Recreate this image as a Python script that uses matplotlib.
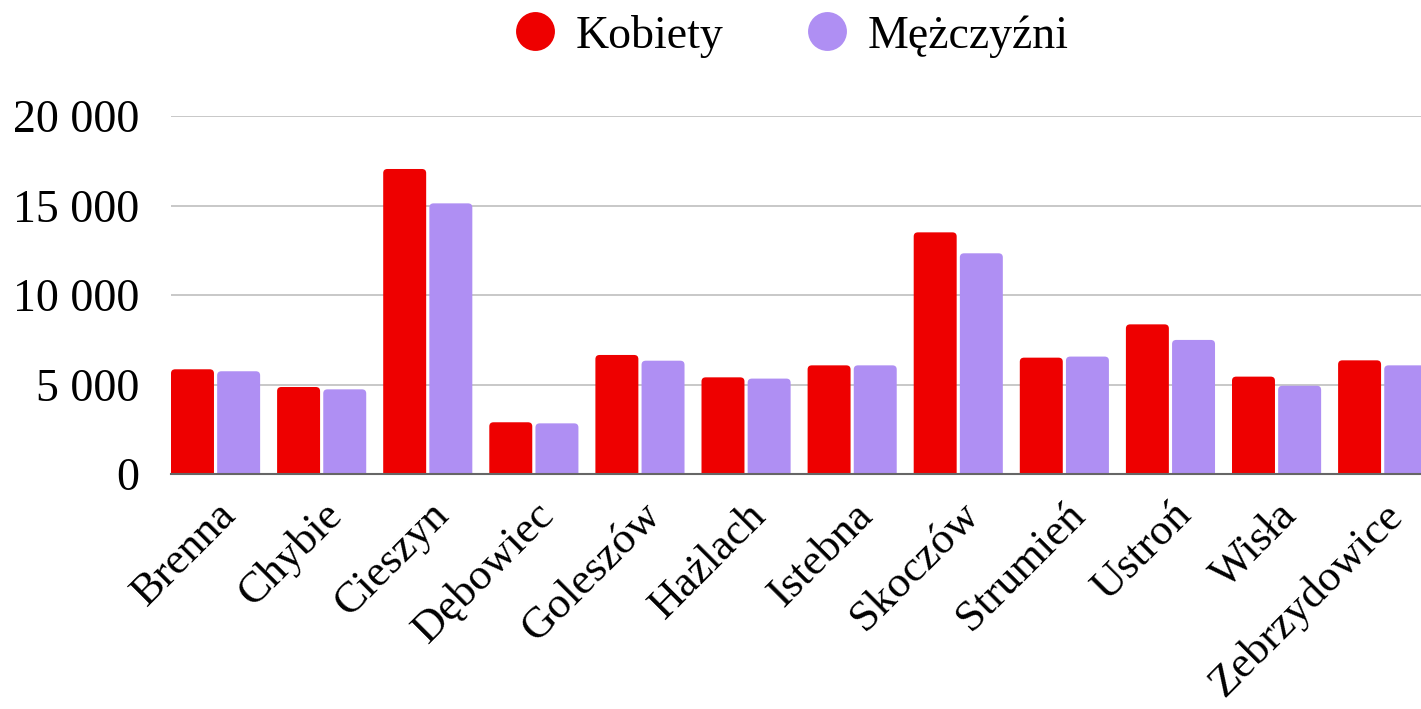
import numpy as np
import matplotlib
matplotlib.use("Agg")
from matplotlib import pyplot as plt
from matplotlib.patches import FancyBboxPatch
from matplotlib.lines import Line2D

plt.rcParams['font.family'] = ['Liberation Serif', 'DejaVu Serif']

gminy = ['Brenna', 'Chybie', 'Cieszyn', 'Dębowiec', 'Goleszów', 'Hażlach',
         'Istebna', 'Skoczów', 'Strumień', 'Ustroń', 'Wisła', 'Zebrzydowice']
kobiety = [5850, 4860, 17040, 2890, 6650, 5400, 6070, 13500, 6500, 8360, 5440, 6350]
mezczyzni = [5740, 4730, 15120, 2830, 6330, 5330, 6070, 12330, 6560, 7490, 4930, 6070]
yticks = [0, 5000, 10000, 15000, 20000]
ytick_labels = ['0', '5 000', '10 000', '15 000', '20 000']

red = '#ee0000'
purple = '#af8ff3'

fig = plt.figure(figsize=(14.21, 7.09), dpi=100)
ax = fig.add_axes([171 / 1421, 1 - 474 / 709, 1 - 171 / 1421, (474 - 116) / 709])

x = np.arange(len(gminy))
w = 0.405
off = 0.2175

bars_k = ax.bar(x - off, kobiety, w, color=red)
bars_m = ax.bar(x + off, mezczyzni, w, color=purple)

# swap plain bars for slightly rounded ones
rad_x = 0.04
aspect = 230 / rad_x
for bars in (bars_k, bars_m):
    for b in bars:
        bx, by = b.get_x(), b.get_y()
        bw, bh = b.get_width(), b.get_height()
        p = FancyBboxPatch((bx, by - 300), bw, bh + 300,
                           boxstyle='round,pad=0,rounding_size=%f' % rad_x,
                           mutation_aspect=aspect, fc=b.get_facecolor(),
                           ec='none', zorder=2)
        ax.add_patch(p)
        b.set_visible(False)

ax.set_xlim(-off - w / 2, -off - w / 2 + (1421 - 171) / 106.1)
ax.set_ylim(0, 20000)

ax.set_yticks(yticks)
ax.set_yticklabels(ytick_labels, fontsize=33)
ax.yaxis.grid(True, color='#c4c4c4', linewidth=1.3, zorder=0)
ax.set_axisbelow(True)
ax.tick_params(axis='y', length=0, pad=23)
ax.tick_params(axis='x', length=0, pad=15)

ax.set_xticks(x)
ax.set_xticklabels(gminy, fontsize=32, rotation=45, ha='right',
                   rotation_mode='anchor')

for s in ['top', 'right', 'left']:
    ax.spines[s].set_visible(False)
ax.spines['bottom'].set_color('#666666')
ax.spines['bottom'].set_linewidth(1.5)
ax.spines['bottom'].set_zorder(3)

handles = [Line2D([], [], marker='o', linestyle='none', markersize=28,
                  markerfacecolor=red, markeredgecolor='none'),
           Line2D([], [], marker='o', linestyle='none', markersize=28,
                  markerfacecolor=purple, markeredgecolor='none')]
fig.legend(handles, ['Kobiety', 'Mężczyźni'], loc='center',
           bbox_to_anchor=(788 / 1421, 1 - 36 / 709), ncol=2, frameon=False,
           fontsize=33, handletextpad=0.3, columnspacing=1.65, handlelength=1.2)

fig.savefig('out.png', dpi=100)
